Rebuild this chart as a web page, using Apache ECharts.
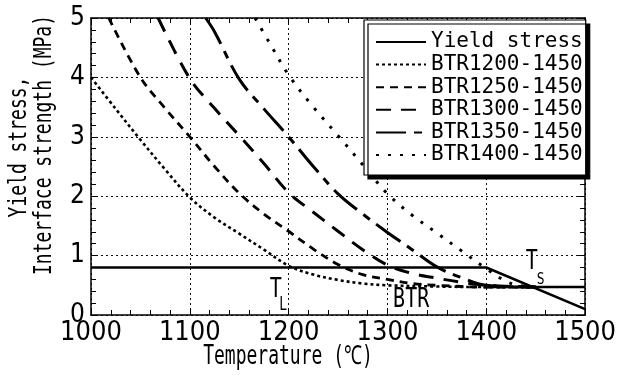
<!DOCTYPE html>
<html>
<head>
<meta charset="utf-8">
<script src="https://cdn.jsdelivr.net/npm/echarts@6/dist/echarts.min.js"></script>
<style>
  html, body { margin: 0; padding: 0; background: #fff; }
  #chart { width: 619px; height: 376px; }
</style>
</head>
<body>
<div id="chart"></div>
<script>
// Axis ranges (temperature in °C, stress in MPa)
const xRange = [1000, 1500];
const yRange = [0, 5];

// Yield stress
const yieldT = [1000, 1400, 1500];
const yieldV = [0.8, 0.8, 0.1];

// Interface strength for each brittle temperature range
const btr1200T = [1000, 1025, 1050, 1075, 1100, 1125, 1150, 1175, 1200, 1225, 1250, 1275, 1300, 1350, 1400, 1450];
const btr1200V = [4.0, 3.47, 2.95, 2.45, 1.98, 1.64, 1.37, 1.1, 0.83, 0.68, 0.59, 0.53, 0.5, 0.48, 0.47, 0.47];

const btr1250T = [1018, 1050, 1075, 1100, 1125, 1150, 1175, 1200, 1225, 1250, 1275, 1300, 1325, 1350, 1400, 1450];
const btr1250V = [5.0, 4.0, 3.48, 3.0, 2.5, 2.05, 1.7, 1.41, 1.11, 0.85, 0.68, 0.6, 0.53, 0.5, 0.47, 0.47];

const btr1300T = [1068, 1100, 1125, 1150, 1175, 1200, 1225, 1250, 1275, 1300, 1325, 1350, 1375, 1400, 1450];
const btr1300V = [5.0, 3.98, 3.48, 3.02, 2.55, 2.06, 1.73, 1.41, 1.1, 0.84, 0.7, 0.62, 0.55, 0.5, 0.47];

const btr1350T = [1116, 1125, 1150, 1175, 1200, 1225, 1250, 1275, 1300, 1325, 1350, 1375, 1400, 1450];
const btr1350V = [5.0, 4.77, 3.97, 3.47, 3.0, 2.5, 2.04, 1.7, 1.39, 1.1, 0.81, 0.63, 0.5, 0.47];

const btr1400T = [1166, 1180, 1200, 1225, 1250, 1275, 1300, 1325, 1350, 1375, 1400, 1425, 1450];
const btr1400V = [5.0, 4.6, 4.04, 3.5, 3.02, 2.53, 2.04, 1.68, 1.38, 1.08, 0.78, 0.53, 0.47];

// Common minimum interface strength above the solidus region
const floorT = [1400, 1500];
const floorV = [0.47, 0.47];

const zip = (t, v) => t.map((x, i) => [x, v[i]]);

const curves = [
  { name: 'Yield stress', t: yieldT, v: yieldV, dash: 'solid', width: 2.5, smooth: false },
  { name: 'BTR1200-1450', t: btr1200T, v: btr1200V, dash: [3, 3], width: 2.6, smooth: 0.35 },
  { name: 'BTR1250-1450', t: btr1250T, v: btr1250V, dash: [8, 6], width: 2.8, smooth: 0.35 },
  { name: 'BTR1300-1450', t: btr1300T, v: btr1300V, dash: [15, 10], width: 3, smooth: 0.35 },
  { name: 'BTR1350-1450', t: btr1350T, v: btr1350V, dash: [30, 8, 8, 8], width: 3, smooth: 0.35 },
  { name: 'BTR1400-1450', t: btr1400T, v: btr1400V, dash: [3, 9], width: 3, smooth: 0.35 }
];

const labelFont = '"Liberation Sans Narrow", "DejaVu Sans Condensed", "Liberation Sans", sans-serif';
const monoFont = '"DejaVu Sans Mono", "Liberation Mono", monospace';

const series = curves.map(c => ({
  name: c.name,
  type: 'line',
  data: zip(c.t, c.v),
  symbol: 'none',
  smooth: c.smooth,
  lineStyle: { color: '#000', width: c.width, type: c.dash, cap: 'butt' },
  itemStyle: { color: '#000', opacity: 0 },
  z: 3
}));
series.push({
  name: 'floor',
  type: 'line',
  data: zip(floorT, floorV),
  symbol: 'none',
  lineStyle: { color: '#000', width: 2.5, type: 'solid' },
  z: 3
});

const gridDots = { color: '#111', width: 1, type: [2, 3] };

const axisCommon = {
  axisLine: { show: true, onZero: false, lineStyle: { color: '#000', width: 1.5 } },
  axisTick: { show: true, inside: true, length: 7, lineStyle: { color: '#000', width: 1 } },
  minorTick: { show: true, splitNumber: 5, length: 5, lineStyle: { color: '#000', width: 1 } }
};

const chart = echarts.init(document.getElementById('chart'), null, { renderer: 'canvas' });

chart.setOption({
  animation: false,
  backgroundColor: '#fff',
  grid: { left: 91, right: 28, top: 18, bottom: 61, containLabel: false },
  legend: {
    data: curves.map(c => c.name),
    orient: 'vertical',
    left: 364,
    top: 20,
    width: 219,
    padding: [11, 3, 9, 11],
    itemGap: 0.6,
    itemWidth: 50,
    itemHeight: 14,
    backgroundColor: '#fff',
    borderColor: '#000',
    borderWidth: 1.2,
    shadowColor: '#000',
    shadowBlur: 0,
    shadowOffsetX: 4,
    shadowOffsetY: 4,
    selectedMode: false,
    itemStyle: { opacity: 0, borderWidth: 0 },
    textStyle: { fontFamily: monoFont, fontSize: 21, color: '#000', lineHeight: 22 },
    z: 10
  },
  xAxis: [
    Object.assign({
      type: 'value', min: xRange[0], max: xRange[1], interval: 100, position: 'bottom',
      axisLabel: { color: '#000', fontFamily: labelFont, fontSize: 27, margin: 4, formatter: v => String(v) },
      splitLine: { show: true, lineStyle: gridDots }
    }, axisCommon),
    Object.assign({
      type: 'value', min: xRange[0], max: xRange[1], interval: 100, position: 'top',
      axisLabel: { show: false }, splitLine: { show: false }
    }, axisCommon)
  ],
  yAxis: [
    Object.assign({
      type: 'value', min: yRange[0], max: yRange[1], interval: 1, position: 'left',
      axisLabel: { color: '#000', fontFamily: labelFont, fontSize: 26, margin: 6 },
      splitLine: { show: true, lineStyle: gridDots }
    }, axisCommon),
    Object.assign({
      type: 'value', min: yRange[0], max: yRange[1], interval: 1, position: 'right',
      axisLabel: { show: false }, splitLine: { show: false }
    }, axisCommon)
  ],
  series: series
});

// Text annotations anchored in data coordinates
const notes = [
  { text: 'T', at: [1187, 0.42], size: 20, sy: 1.35 },
  { text: 'L', at: [1194.5, 0.17], size: 13, sy: 1.45 },
  { text: 'BTR', at: [1324, 0.25], size: 20, sy: 1.35 },
  { text: 'T', at: [1446, 0.89], size: 20, sy: 1.35 },
  { text: 'S', at: [1455, 0.59], size: 13, sy: 1.2 }
];

const graphics = notes.map(n => {
  const p = chart.convertToPixel({ gridIndex: 0 }, n.at);
  return {
    type: 'text', x: p[0], y: p[1], scaleY: n.sy, z: 20,
    style: { text: n.text, font: n.size + 'px ' + monoFont, fill: '#000', textAlign: 'center', textVerticalAlign: 'middle' }
  };
});

// Axis titles
graphics.push({
  type: 'text', x: 288, y: 357, scaleY: 1.45, z: 20,
  style: { text: 'Temperature (℃)', font: '18px ' + monoFont, fill: '#000', textAlign: 'center', textVerticalAlign: 'middle' }
});
graphics.push({
  type: 'text', x: 19, y: 147, rotation: Math.PI / 2, scaleY: 1.4, z: 20,
  style: { text: 'Yield stress,', font: '18px ' + monoFont, fill: '#000', textAlign: 'center', textVerticalAlign: 'middle' }
});
graphics.push({
  type: 'text', x: 44, y: 145, rotation: Math.PI / 2, scaleY: 1.4, z: 20,
  style: { text: 'Interface strength (MPa)', font: '18px ' + monoFont, fill: '#000', textAlign: 'center', textVerticalAlign: 'middle' }
});

chart.setOption({ graphic: graphics });
</script>
</body>
</html>
